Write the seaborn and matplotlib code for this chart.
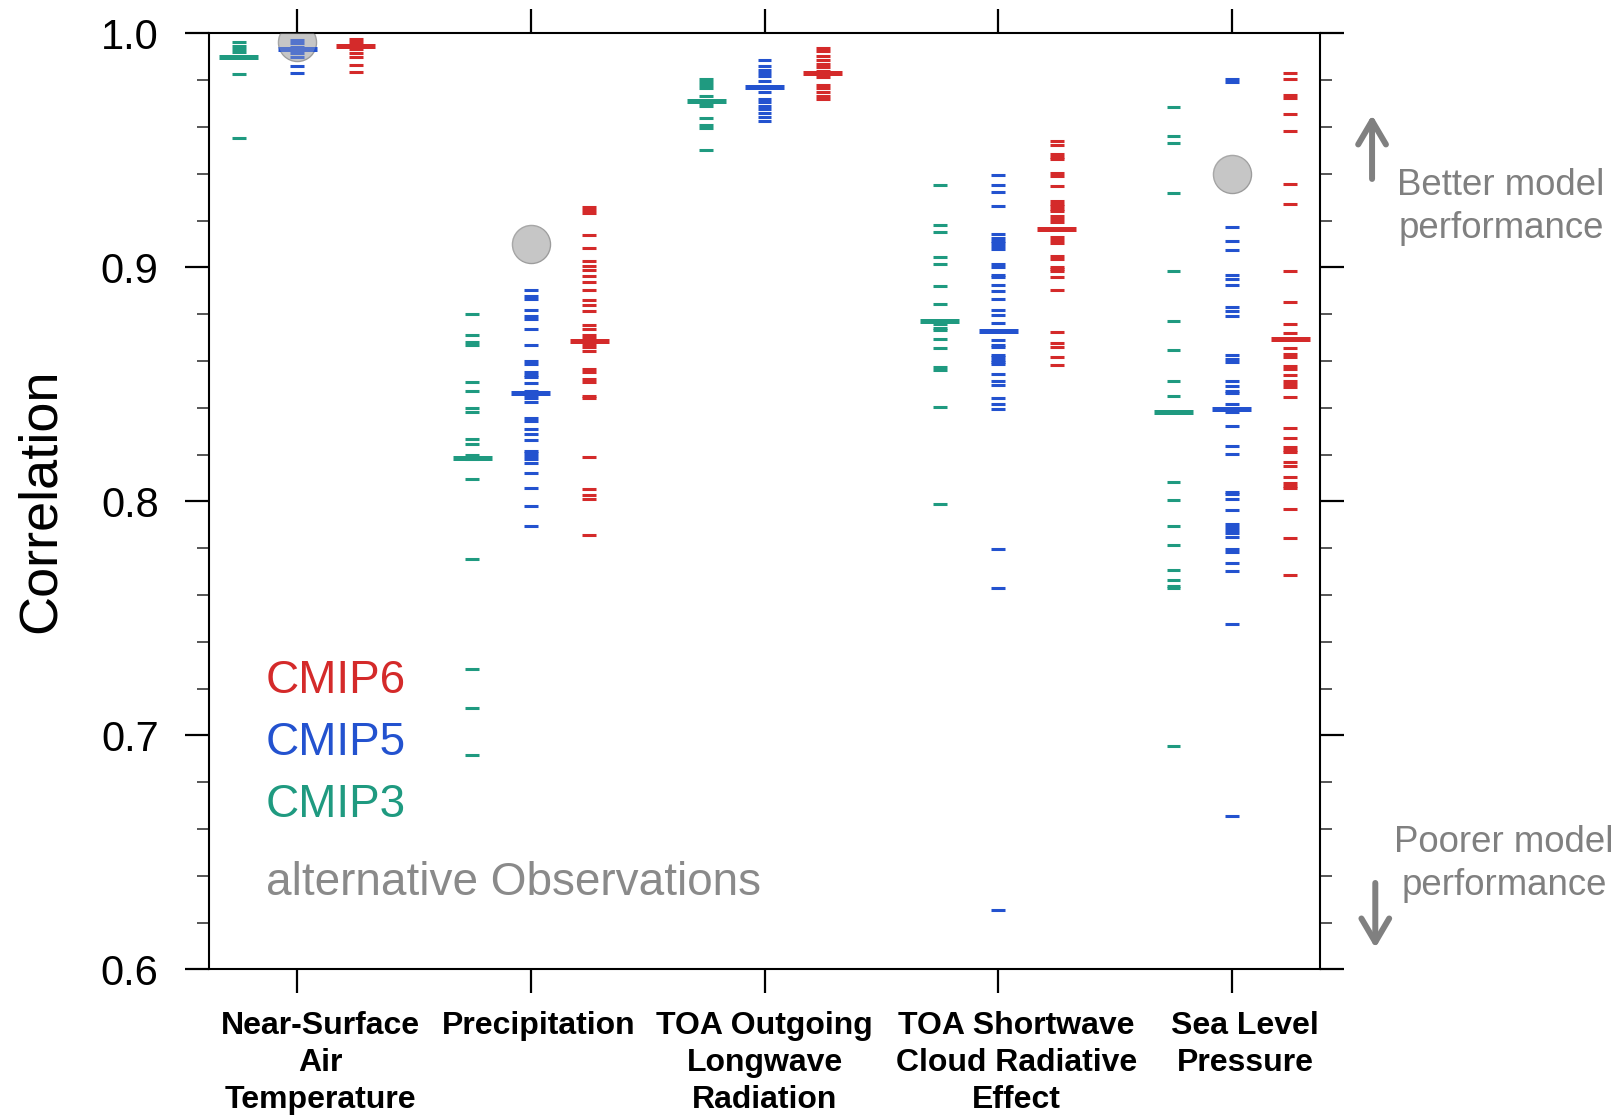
import pandas as pd
import matplotlib
matplotlib.use('Agg')
import matplotlib.pyplot as plt
from matplotlib.ticker import MultipleLocator
from matplotlib.transforms import blended_transform_factory
import seaborn as sns

variables = ['Near-Surface\nAir\nTemperature', 'Precipitation',
             'TOA Outgoing\nLongwave\nRadiation',
             'TOA Shortwave\nCloud Radiative\nEffect', 'Sea Level\nPressure']
ensembles = ['CMIP3', 'CMIP5', 'CMIP6']
colors = {'CMIP3': '#1f9a80', 'CMIP5': '#2352cf', 'CMIP6': '#d42a2a'}
offsets = {'CMIP3': -0.25, 'CMIP5': 0.0, 'CMIP6': 0.25}

# individual models
tas_cmip3 = [0.9962, 0.9947, 0.9933, 0.9919, 0.9826, 0.9554]
tas_cmip5 = [0.9971, 0.9957, 0.9943, 0.9929, 0.9915, 0.9900, 0.9862, 0.9829]
tas_cmip6 = [0.9976, 0.9962, 0.9933, 0.9915, 0.9897, 0.9865, 0.9835]

pr_cmip3 = [0.8799, 0.8712, 0.8681, 0.8668, 0.8509, 0.8470, 0.8400, 0.8382, 0.8268,
            0.8246, 0.8197, 0.8180, 0.8094, 0.7756, 0.7286, 0.7117, 0.6916]
pr_cmip5 = [0.8903, 0.8877, 0.8866, 0.8818, 0.8791, 0.8778, 0.8738, 0.8668, 0.8598,
            0.8588, 0.8551, 0.8540, 0.8530, 0.8506, 0.8473, 0.8454, 0.8443, 0.8423,
            0.8356, 0.8344, 0.8310, 0.8286, 0.8263, 0.8216, 0.8205, 0.8194, 0.8182,
            0.8165, 0.8121, 0.8057, 0.7981, 0.7896]
pr_cmip6 = [0.9256, 0.9245, 0.9233, 0.9138, 0.9084, 0.9027, 0.9006, 0.8988, 0.8964,
            0.8936, 0.8903, 0.8862, 0.8838, 0.8812, 0.8752, 0.8738, 0.8711, 0.8697,
            0.8672, 0.8658, 0.8644, 0.8567, 0.8553, 0.8521, 0.8509, 0.8451, 0.8440,
            0.8191, 0.8054, 0.8028, 0.8009, 0.7857]

rlut_cmip3 = [0.9806, 0.9792, 0.9778, 0.9765, 0.9732, 0.9703, 0.9689, 0.9639, 0.9609,
              0.9594, 0.9503]
rlut_cmip5 = [0.9885, 0.9859, 0.9845, 0.9830, 0.9816, 0.9797, 0.9749, 0.9719, 0.9705,
              0.9689, 0.9675, 0.9659, 0.9644, 0.9627]
rlut_cmip6 = [0.9937, 0.9923, 0.9902, 0.9886, 0.9870, 0.9855, 0.9839, 0.9812, 0.9780,
              0.9765, 0.9749, 0.9733, 0.9718]

swcre_cmip3 = [0.9353, 0.9179, 0.9151, 0.9045, 0.9015, 0.8921, 0.8844, 0.8759, 0.8742,
               0.8732, 0.8694, 0.8656, 0.8573, 0.8561, 0.8403, 0.7991]
swcre_cmip5 = [0.9393, 0.9353, 0.9322, 0.9262, 0.9142, 0.9125, 0.9114, 0.9103, 0.9091,
               0.9078, 0.9013, 0.9001, 0.8967, 0.8957, 0.8923, 0.8897, 0.8865, 0.8819,
               0.8796, 0.8761, 0.8689, 0.8668, 0.8659, 0.8625, 0.8615, 0.8605, 0.8595,
               0.8587, 0.8543, 0.8513, 0.8496, 0.8444, 0.8416, 0.8396, 0.7795, 0.7628,
               0.6253]
swcre_cmip6 = [0.9538, 0.9524, 0.9484, 0.9473, 0.9463, 0.9402, 0.9390, 0.9346, 0.9283,
               0.9272, 0.9261, 0.9249, 0.9241, 0.9219, 0.9208, 0.9195, 0.9131, 0.9117,
               0.9103, 0.9047, 0.9035, 0.9003, 0.8993, 0.8983, 0.8959, 0.8902, 0.8726,
               0.8675, 0.8661, 0.8618, 0.8585]

psl_cmip3 = [0.9684, 0.9562, 0.9530, 0.9319, 0.8983, 0.8771, 0.8648, 0.8513, 0.8449,
             0.8085, 0.8006, 0.7893, 0.7815, 0.7705, 0.7665, 0.7639, 0.7631, 0.6957]
psl_cmip5 = [0.9807, 0.9790, 0.9172, 0.9111, 0.9073, 0.8967, 0.8951, 0.8923, 0.8830,
             0.8815, 0.8793, 0.8625, 0.8609, 0.8594, 0.8514, 0.8493, 0.8473, 0.8462,
             0.8416, 0.8382, 0.8322, 0.8238, 0.8202, 0.8041, 0.8031, 0.8010, 0.7962,
             0.7904, 0.7891, 0.7879, 0.7866, 0.7846, 0.7796, 0.7785, 0.7735, 0.7702,
             0.7477, 0.6656]
psl_cmip6 = [0.9829, 0.9807, 0.9738, 0.9725, 0.9654, 0.9584, 0.9355, 0.9272, 0.8983,
             0.8850, 0.8759, 0.8718, 0.8656, 0.8632, 0.8618, 0.8580, 0.8567, 0.8541,
             0.8513, 0.8501, 0.8487, 0.8446, 0.8312, 0.8272, 0.8232, 0.8219, 0.8211,
             0.8167, 0.8150, 0.8104, 0.8078, 0.8067, 0.8056, 0.7966, 0.7843, 0.7685]

# multi-model central value per variable
median_cmip3 = [0.9900, 0.8186, 0.9712, 0.8773, 0.8380]
median_cmip5 = [0.9932, 0.8464, 0.9772, 0.8729, 0.8393]
median_cmip6 = [0.9947, 0.8684, 0.9829, 0.9162, 0.8694]

# alternative observations
obs_var = [0, 1, 4]
obs_vals = [0.9964, 0.910, 0.940]

model_lists = {
    'CMIP3': [tas_cmip3, pr_cmip3, rlut_cmip3, swcre_cmip3, psl_cmip3],
    'CMIP5': [tas_cmip5, pr_cmip5, rlut_cmip5, swcre_cmip5, psl_cmip5],
    'CMIP6': [tas_cmip6, pr_cmip6, rlut_cmip6, swcre_cmip6, psl_cmip6],
}
median_lists = {'CMIP3': median_cmip3, 'CMIP5': median_cmip5, 'CMIP6': median_cmip6}

rows = []
for ens in ensembles:
    for i, vals in enumerate(model_lists[ens]):
        for v in vals:
            rows.append({'var': i, 'ensemble': ens, 'value': v})
models = pd.DataFrame(rows)
models['xpos'] = models['var'] + models['ensemble'].map(offsets)

med = pd.DataFrame([{'var': i, 'ensemble': ens, 'value': v}
                    for ens in ensembles for i, v in enumerate(median_lists[ens])])
med['xpos'] = med['var'] + med['ensemble'].map(offsets)

obs = pd.DataFrame({'xpos': obs_var, 'value': obs_vals})

sns.set_theme(style='ticks')
plt.rcParams['font.family'] = ['Liberation Sans', 'DejaVu Sans']
plt.rcParams['text.color'] = 'black'
plt.rcParams['xtick.color'] = 'black'
plt.rcParams['ytick.color'] = 'black'

fig = plt.figure(figsize=(16.18, 11.15), dpi=100)
ax = fig.add_axes([0.1292, 0.1305, 0.6866, 0.8396])

sns.scatterplot(data=obs, x='xpos', y='value', color='#c6c6c6', edgecolor='#9c9c9c',
                linewidth=1.0, s=750, zorder=2, legend=False, ax=ax)
sns.scatterplot(data=models, x='xpos', y='value', hue='ensemble', palette=colors,
                marker='_', s=100, linewidth=2.2, zorder=3, legend=False, ax=ax)
sns.scatterplot(data=med, x='xpos', y='value', hue='ensemble', palette=colors,
                marker='_', s=784, linewidth=3.6, zorder=4, legend=False, ax=ax)
# faint veil of the observation circles over the dashes
sns.scatterplot(data=obs, x='xpos', y='value', color='#c6c6c6', edgecolor='none',
                alpha=0.3, s=750, zorder=5, legend=False, ax=ax)

ax.set_xlim(-0.377, 4.377)
ax.set_ylim(0.6, 1.0)
ax.set_xlabel('')
ax.set_ylabel('')

for s in ax.spines.values():
    s.set_visible(True)
    s.set_linewidth(1.5)
    s.set_color('black')

ax.set_xticks(range(len(variables)))
ax.tick_params(axis='x', which='major', top=True, bottom=True, direction='out',
               length=17.3, width=1.6, color='black', labelbottom=False)
ax.set_yticks([0.6, 0.7, 0.8, 0.9, 1.0])
ax.set_yticklabels(['0.6', '0.7', '0.8', '0.9', '1.0'])
ax.yaxis.set_minor_locator(MultipleLocator(0.02))
ax.tick_params(axis='y', which='major', left=True, right=True, direction='out',
               length=17.3, width=1.6, color='black', labelcolor='black',
               labelsize=30, pad=19)
ax.tick_params(axis='y', which='minor', left=True, right=True, direction='out',
               length=8.6, width=1.4, color='#555555')

trans = blended_transform_factory(ax.transData, ax.transAxes)
label_shift = [0.1, 0.035, 0.0, 0.077, 0.056]
for i, name in enumerate(variables):
    ax.text(i + label_shift[i], -0.044, name, transform=trans, ha='center', va='top',
            fontsize=23, fontweight='bold', linespacing=1.32, multialignment='center',
            color='black')

fig.text(0.0253, 0.5505, 'Correlation', rotation=90, ha='center', va='center',
         fontsize=39, color='black')

fig.text(0.1644, 0.3781, 'CMIP6', color=colors['CMIP6'], fontsize=33, va='baseline')
fig.text(0.1644, 0.3225, 'CMIP5', color=colors['CMIP5'], fontsize=33, va='baseline')
fig.text(0.1644, 0.2670, 'CMIP3', color=colors['CMIP3'], fontsize=33, va='baseline')
fig.text(0.1644, 0.1975, 'alternative Observations', color='#8a8a8a', fontsize=33,
         va='baseline')

arrow_kw = dict(arrowstyle='->,head_length=0.85,head_width=0.5', color='#808080', lw=4.3,
                mutation_scale=20, shrinkA=0, shrinkB=0, capstyle='round', joinstyle='round')
ax.annotate('', xy=(0.848, 0.8969), xytext=(0.848, 0.8395), xycoords='figure fraction',
            textcoords='figure fraction', arrowprops=arrow_kw, annotation_clip=False)
ax.annotate('', xy=(0.850, 0.1498), xytext=(0.850, 0.2081), xycoords='figure fraction',
            textcoords='figure fraction', arrowprops=arrow_kw, annotation_clip=False)
fig.text(0.9277, 0.8145, 'Better model\nperformance', color='#808080', fontsize=26.4,
         ha='center', va='center', linespacing=1.3)
fig.text(0.9295, 0.2255, 'Poorer model\nperformance', color='#808080', fontsize=26.4,
         ha='center', va='center', linespacing=1.3)

fig.savefig('out.png', dpi=100)
